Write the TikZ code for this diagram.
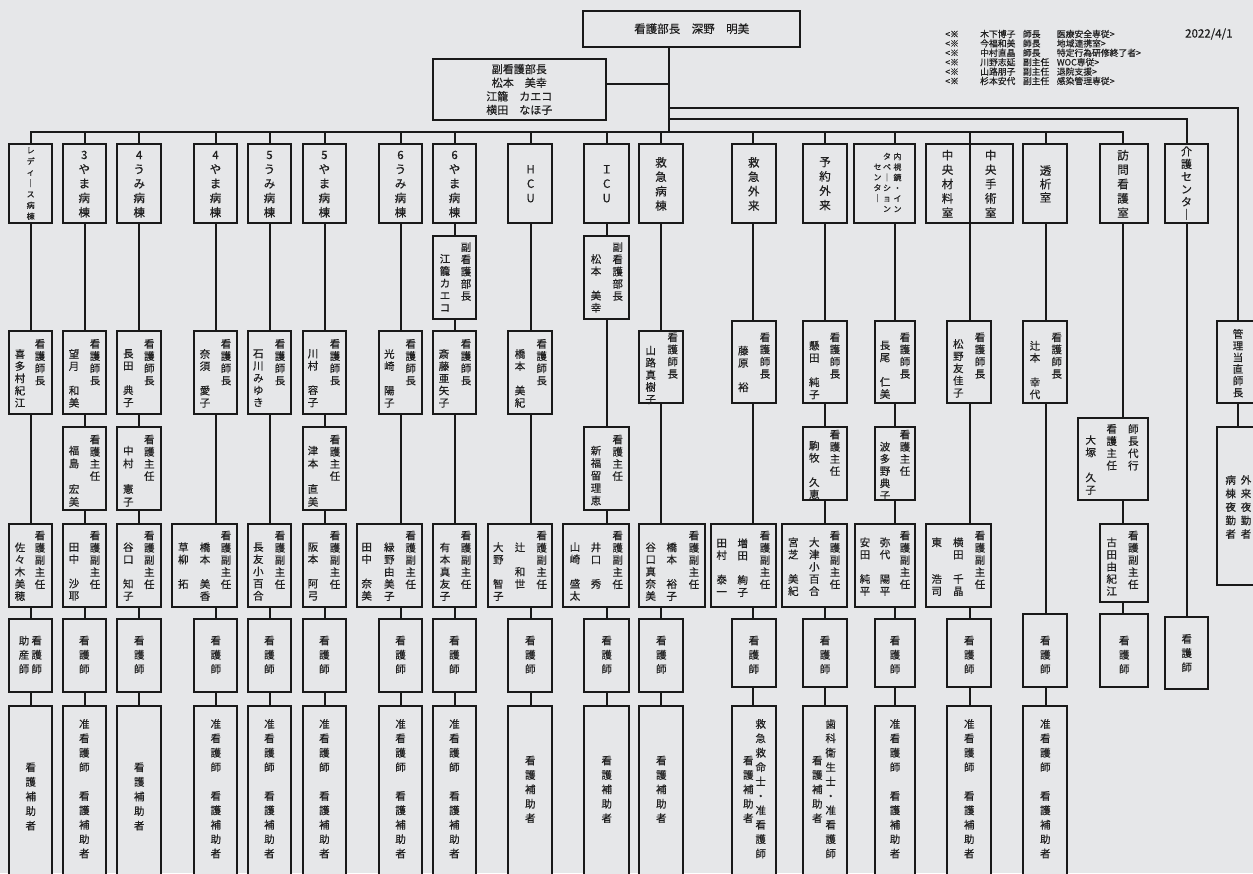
\documentclass[tikz,border=0pt]{standalone}
\usepackage{fontspec}
\setmainfont{Noto Sans CJK JP}[FakeBold=0.4]
\definecolor{bgc}{RGB}{230,231,233}
\definecolor{ln}{RGB}{25,25,25}
\definecolor{txt}{RGB}{32,32,32}
\pgfdeclarelayer{back}
\pgfdeclarelayer{wires}
\pgfsetlayers{back,wires,main}
\newlength\vp
\newcounter{tn}
\def\vtend{VTEND}
\def\vtl#1{\ifx#1\vtend\else\hbox to 1.2em{\hss\vrule height .8em depth .2em width 0pt\relax#1\hss}\expandafter\vtl\fi}
\newcommand\vt[1]{\vtop{\baselineskip=\vp\lineskiplimit=-\maxdimen\lineskip=0pt\relax\vtl#1\vtend}}
\def\SP{\phantom{国}}
\tikzset{
  bx/.style={draw=ln,line width=2pt,fill=bgc,inner sep=0pt,outer sep=0pt},
  tc/.style={inner sep=0pt,anchor=north,text=txt},
  wire/.style={draw=ln,line width=2pt,line cap=rect,line join=miter},
}
\newcommand\B[5]{\node[bx,minimum width={(#4)-(#2)},minimum height={(#5)-(#3)}] (#1) at ({((#2)+(#4))/2},{((#3)+(#5))/2}) {};}
\newcommand\Cg[5]{\stepcounter{tn}\node[tc,font=\fontsize{#1}{#1}\selectfont,yshift={0.42*#1}] (tx\arabic{tn}) at (#3,#4) {\vp=#2pt\relax\vt{#5}};}
\newcommand\TC{\Cg{10.5}{12.2}}
\newcommand\HDR{\Cg{11.5}{14.4}}
\newcommand\NSS{\Cg{10.5}{14.2}}
\newcommand\NBB{\Cg{10.5}{14.4}}
\newcommand\NT[5]{\node[anchor=west,inner sep=0pt,text=txt,font=\fontsize{8.8}{8.8}\selectfont] (nt#1) at (945,#2) {\makebox[35pt][l]{<※}\makebox[42.7pt][l]{#3}\makebox[34pt][l]{#4}#5>};}
\begin{document}
\begin{tikzpicture}[x=1pt,y=-1pt]
\begin{pgfonlayer}{back}
\fill[bgc] (0,0) rectangle (1253,873);
\end{pgfonlayer}
\useasboundingbox (0,0) rectangle (1253,873);

% top
\node[bx,minimum width=216.7,minimum height=36,font=\fontsize{11.5}{11.5}\selectfont,text=txt] (top) at (691.7,28.7) {看護部長　深野　明美};
\node[bx,minimum width=173.3,minimum height=61,align=center,font=\fontsize{11}{13.6}\selectfont,text=txt] (fuku) at (519.3,89.5) {副看護部長\\松本　美幸\\江籠　カエコ\\横田　なほ子};
\NT{1}{34}{木下博子}{師長}{医療安全専従}
\NT{2}{43.4}{今福和美}{師長}{地域連携室}
\NT{3}{52.8}{中村直晶}{師長}{特定行為研修終了者}
\NT{4}{62.2}{川野志延}{副主任}{WOC専従}
\NT{5}{71.6}{山路朋子}{副主任}{退院支援}
\NT{6}{81}{杉本安代}{副主任}{感染管理専従}
\node[anchor=west,inner sep=0pt,text=txt,font=\fontsize{11.5}{11.5}\selectfont] (date) at (1185,34) {2022/4/1};

% headers
\B{h1}{9}{144}{52.3}{222.7}
\B{h2}{62.7}{144}{106}{222.7}
\B{h3}{117.3}{144}{161}{222.7}
\B{h4}{194.3}{144}{237.3}{222.7}
\B{h5}{247.7}{144}{291}{222.7}
\B{h6}{302.7}{144}{346}{222.7}
\B{h7}{379}{144}{422.3}{222.7}
\B{h8}{432.7}{144}{476}{222.7}
\B{h9}{508.3}{144}{552.3}{222.7}
\B{h10}{584.3}{144}{629}{222.7}
\B{h11}{639.3}{144}{683.3}{222.7}
\B{h12}{731.7}{144}{776}{222.7}
\B{h13}{802.7}{144}{847.3}{222.7}
\B{h14}{854.3}{144}{915}{222.7}
\B{h15a}{926}{144}{970}{222.7}
\B{h15b}{970}{144}{1013.3}{222.7}
\B{h16}{1023.3}{144}{1067.3}{222.7}
\B{h17}{1100}{144}{1148}{222.7}
\B{h18}{1165}{144}{1208.3}{222.7}
\Cg{8}{11}{30.7}{150}{レディ｜ス病棟}
\HDR{84.3}{154.5}{3やま病棟}
\HDR{139.2}{154.5}{4うみ病棟}
\HDR{215.5}{154.5}{4やま病棟}
\HDR{269.5}{154.5}{5うみ病棟}
\HDR{324.4}{154.5}{5やま病棟}
\HDR{400.5}{154.5}{6うみ病棟}
\HDR{454.6}{154.5}{6やま病棟}
\HDR{530.6}{168.9}{HCU}
\HDR{606.7}{168.9}{ＩCU}
\HDR{661}{161.7}{救急病棟}
\HDR{753.7}{161.7}{救急外来}
\HDR{825}{161.7}{予約外来}
\Cg{8}{10.5}{897.5}{156}{内視鏡・イン}
\Cg{8}{10.5}{887}{156}{タベ｜ション}
\Cg{8}{10.5}{877.5}{166.5}{センタ｜}
\HDR{947.5}{154.5}{中央材料室}
\HDR{990.7}{154.5}{中央手術室}
\Cg{11.5}{13.5}{1045.5}{170}{透析室}
\HDR{1123}{154.5}{訪問看護室}
\Cg{11}{12.6}{1186.5}{150.7}{介護センタ｜}

% row A
\B{a8}{432.7}{236}{476}{319.3}
\B{a10}{584.3}{236}{629}{319.3}
\TC{466}{246.7}{副看護部長}\TC{445}{258.3}{江籠カエコ}
\TC{617.7}{246.7}{副看護部長}\TC{596}{258.3}{松本\SP 美幸}

% row 1
\B{r1c1}{9}{330.7}{52.3}{414.3}
\B{r1c2}{62.7}{330.7}{106}{414.3}
\B{r1c3}{117.3}{330.7}{161}{414.3}
\B{r1c4}{194.3}{330.7}{237.3}{414.3}
\B{r1c5}{247.7}{330.7}{291}{414.3}
\B{r1c6}{302.7}{330.7}{346}{414.3}
\B{r1c7}{379}{330.7}{422.3}{414.3}
\B{r1c8}{432.7}{330.7}{476}{414.3}
\B{r1c9}{508.3}{330.7}{552.3}{414.3}
\B{r1c11}{639.3}{330.7}{683.3}{403.3}
\B{r1c12}{731.7}{321}{776}{403.3}
\B{r1c13}{802.7}{321}{847.3}{403.3}
\B{r1c14}{875}{321}{915}{403.3}
\B{r1c15}{947.3}{321}{991}{403.3}
\B{r1c16}{1023.3}{321}{1067.3}{403.3}
\B{r1c19}{1216.7}{321}{1259}{403.3}
\TC{40}{343.3}{看護師長}\TC{20}{353.3}{喜多村紀江}
\TC{95}{343.3}{看護師長}\TC{74}{353.3}{望月\SP 和美}
\TC{149.3}{343.3}{看護師長}\TC{128.3}{353.3}{長田\SP 典子}
\TC{226}{343.3}{看護師長}\TC{205}{353.3}{奈須\SP 愛子}
\TC{280}{343.3}{看護師長}\TC{258.3}{353.3}{石川みゆき}
\TC{335}{343.3}{看護師長}\TC{313}{353.3}{川村\SP 容子}
\TC{410.7}{343.3}{看護師長}\TC{389.3}{353.3}{光崎\SP 陽子}
\TC{466}{343.3}{看護師長}\TC{444}{353.3}{斎藤亜矢子}
\TC{541.7}{343.3}{看護師長}\TC{520}{353.3}{橋本\SP 美紀}
\TC{672.7}{336.7}{看護師長}\TC{650.7}{350}{山路真樹子}
\TC{765}{336.7}{看護師長}\TC{743.3}{350}{藤原\SP 裕}
\TC{835}{336.7}{看護師長}\TC{814.3}{345}{懸田\SP 純子}
\TC{905}{336.7}{看護師長}\TC{885}{345}{長尾\SP 仁美}
\TC{980}{336.7}{看護師長}\TC{958.3}{343.3}{松野友佳子}
\TC{1056.7}{336.7}{看護師長}\TC{1035}{345}{辻本\SP 幸代}
\Cg{10.5}{11.7}{1238}{333.3}{管理当直師長}

% row 2
\B{r2c2}{62.7}{427.3}{106}{510}
\B{r2c3}{117.3}{427.3}{161}{510}
\B{r2c6}{302.7}{427.3}{346}{510}
\B{r2c10}{584.3}{427.3}{629}{510}
\B{r2c13}{802.7}{427.3}{847.3}{500}
\B{r2c14}{875}{427.3}{915}{500}
\B{r2c17}{1078.3}{417.7}{1148.3}{500}
\B{r2c19}{1216.7}{427.3}{1259}{585}
\TC{95}{439}{看護主任}\Cg{10.5}{12.8}{74}{450}{福島\SP 宏美}
\TC{149.3}{439}{看護主任}\Cg{10.5}{12.8}{128.3}{450}{中村\SP 憲子}
\TC{335}{439}{看護主任}\Cg{10.5}{12.8}{313}{450}{津本\SP 直美}
\TC{617.7}{439}{看護主任}\Cg{10.5}{12.5}{596}{450}{新福留理恵}
\TC{835}{434}{看護主任}\TC{814.3}{445}{駒牧\SP 久恵}
\TC{905}{434}{看護主任}\TC{885}{446}{波多野典子}
\TC{1133.3}{428.3}{師長代行}\TC{1111.7}{428.3}{看護主任}\Cg{10.5}{12.5}{1090.7}{439.3}{大塚\SP 久子}
\Cg{10.5}{13.5}{1246}{479.3}{外来夜勤者}\Cg{10.5}{13.5}{1230.7}{479.3}{病棟夜勤者}

% row 3
\B{r3c1}{9}{524}{52.3}{606.7}
\B{r3c2}{62.7}{524}{106}{606.7}
\B{r3c3}{117.3}{524}{161}{606.7}
\B{r3c4}{171.7}{524}{237.3}{606.7}
\B{r3c5}{247.7}{524}{291}{606.7}
\B{r3c6}{302.7}{524}{346}{606.7}
\B{r3c7}{356.7}{524}{422.3}{606.7}
\B{r3c8}{432.7}{524}{476}{606.7}
\B{r3c9}{487.7}{524}{552.3}{606.7}
\B{r3c10}{563.3}{524}{629}{606.7}
\B{r3c11}{639.3}{524}{705}{606.7}
\B{r3c12}{710.7}{524}{776}{606.7}
\B{r3c13}{781.7}{524}{847.3}{606.7}
\B{r3c14}{855}{524}{915}{606.7}
\B{r3c15}{926}{524}{991}{606.7}
\B{r3c17}{1100}{524}{1148.3}{601.7}
\TC{40}{535}{看護副主任}\TC{20}{546.7}{佐々木美穂}
\TC{95}{535}{看護副主任}\TC{74}{546.7}{田中\SP 沙耶}
\TC{149.3}{535}{看護副主任}\TC{128.3}{546.7}{谷口\SP 知子}
\TC{226}{535}{看護副主任}\TC{205}{546.7}{橋本\SP 美香}\TC{183.3}{546.7}{草柳\SP 拓}
\TC{280}{535}{看護副主任}\TC{258.3}{546.7}{長友小百合}
\TC{335}{535}{看護副主任}\TC{313}{546.7}{阪本\SP 阿弓}
\TC{410.7}{535}{看護副主任}\TC{389.3}{546.7}{緑野由美子}\TC{366.7}{546.7}{田中\SP 奈美}
\TC{466}{535}{看護副主任}\TC{445}{546.7}{有本真友子}
\TC{541.7}{535}{看護副主任}\TC{520}{546.7}{辻\SP 和世}\TC{498.3}{546.7}{大野\SP 智子}
\TC{617.7}{535}{看護副主任}\TC{596}{546.7}{井口\SP 秀}\TC{575}{546.7}{山崎\SP 盛太}
\TC{694}{535}{看護副主任}\TC{671.7}{546.7}{橋本\SP 裕子}\TC{650.7}{546.7}{谷口真奈美}
\TC{765}{535}{看護副主任}\TC{742.7}{542.7}{増田\SP 絢子}\TC{721.7}{542.7}{田村\SP 泰一}
\TC{835}{535}{看護副主任}\TC{814.3}{541.7}{大津小百合}\TC{793.3}{541.7}{宮芝\SP 美紀}
\TC{905}{535}{看護副主任}\TC{885}{541.7}{弥代\SP 陽平}\TC{865}{541.7}{安田\SP 純平}
\TC{980}{535}{看護副主任}\TC{958.3}{541.7}{横田\SP 千晶}\TC{936.7}{541.7}{東\SP\SP 浩司}
\TC{1133.3}{535}{看護副主任}\TC{1111.7}{541.7}{古田由紀江}

% row 4
\B{r4c1}{9}{619}{52.3}{691.7}
\B{r4c2}{62.7}{619}{106}{691.7}
\B{r4c3}{117.3}{619}{161}{691.7}
\B{r4c4}{194.3}{619}{237.3}{691.7}
\B{r4c5}{247.7}{619}{291}{691.7}
\B{r4c6}{302.7}{619}{346}{691.7}
\B{r4c7}{379}{619}{422.3}{691.7}
\B{r4c8}{432.7}{619}{476}{691.7}
\B{r4c9}{508.3}{619}{552.3}{691.7}
\B{r4c10}{584.3}{619}{629}{691.7}
\B{r4c11}{639.3}{619}{683.3}{691.7}
\B{r4c12}{731.7}{619}{776}{686.7}
\B{r4c13}{802.7}{619}{847.3}{686.7}
\B{r4c14}{875}{619}{915}{686.7}
\B{r4c15}{947.3}{619}{991}{686.7}
\B{r4c16}{1023.3}{614}{1067.3}{686.7}
\B{r4c17}{1100}{614}{1148.3}{686.7}
\B{r4c18}{1165}{616.7}{1208.3}{689}
\NSS{36.7}{640}{看護師}\NSS{24}{640}{助産師}
\NSS{84.3}{640}{看護師}
\NSS{139.2}{640}{看護師}
\NSS{215.8}{640}{看護師}
\NSS{269.4}{640}{看護師}
\NSS{324.4}{640}{看護師}
\NSS{400.6}{640}{看護師}
\NSS{454.4}{640}{看護師}
\NSS{530.3}{640}{看護師}
\NSS{606.7}{640}{看護師}
\NSS{661.3}{640}{看護師}
\NSS{753.9}{640}{看護師}
\NSS{825}{640}{看護師}
\NSS{895}{640}{看護師}
\NSS{969.2}{640}{看護師}
\NSS{1045.3}{640}{看護師}
\NSS{1124.2}{640}{看護師}
\NSS{1186.7}{638.3}{看護師}

% row 5
\B{r5c1}{9}{706}{52.3}{900}
\B{r5c2}{62.7}{706}{106}{900}
\B{r5c3}{117.3}{706}{161}{900}
\B{r5c4}{194.3}{706}{237.3}{900}
\B{r5c5}{247.7}{706}{291}{900}
\B{r5c6}{302.7}{706}{346}{900}
\B{r5c7}{379}{706}{422.3}{900}
\B{r5c8}{432.7}{706}{476}{900}
\B{r5c9}{508.3}{706}{552.3}{900}
\B{r5c10}{584.3}{706}{629}{900}
\B{r5c11}{639.3}{706}{683.3}{900}
\B{r5c12}{731.7}{706}{776}{900}
\B{r5c13}{802.7}{706}{847.3}{900}
\B{r5c14}{875}{706}{915}{900}
\B{r5c15}{947.3}{706}{991}{900}
\B{r5c16}{1023.3}{706}{1067.3}{900}
\Cg{10.5}{14.6}{30.7}{766.7}{看護補助者}
\NBB{84.3}{723.3}{准看護師\SP 看護補助者}
\Cg{10.5}{14.6}{139.2}{766.7}{看護補助者}
\NBB{215.8}{723.3}{准看護師\SP 看護補助者}
\NBB{269.4}{723.3}{准看護師\SP 看護補助者}
\NBB{324.4}{723.3}{准看護師\SP 看護補助者}
\NBB{400.6}{723.3}{准看護師\SP 看護補助者}
\NBB{454.4}{723.3}{准看護師\SP 看護補助者}
\NBB{530.3}{760}{看護補助者}
\NBB{606.7}{760}{看護補助者}
\NBB{661.3}{760}{看護補助者}
\NBB{760.7}{723.3}{救急救命士・准看護師}\NBB{748.3}{760}{看護補助者}
\NBB{830.7}{723.3}{歯科衛生士・准看護師}\NBB{817.3}{760}{看護補助者}
\NBB{895}{723.3}{准看護師\SP 看護補助者}
\NBB{969.2}{723.3}{准看護師\SP 看護補助者}
\NBB{1045.3}{723.3}{准看護師\SP 看護補助者}

% connectors
\coordinate (t1) at (30.5,131.7);
\coordinate (t2) at (84.5,131.7);
\coordinate (t3) at (139,131.7);
\coordinate (t4) at (215.5,131.7);
\coordinate (t5) at (269.5,131.7);
\coordinate (t6) at (324.5,131.7);
\coordinate (t7) at (400.5,131.7);
\coordinate (t8) at (455,131.7);
\coordinate (t9) at (531,131.7);
\coordinate (t10) at (606.7,131.7);
\coordinate (t11) at (660.7,131.7);
\coordinate (t12) at (753.3,131.7);
\coordinate (t13) at (825,131.7);
\coordinate (t14) at (895,131.7);
\coordinate (t15) at (970,131.7);
\coordinate (t16) at (1046,131.7);
\coordinate (t17) at (1122.7,131.7);
\coordinate (tk) at (669.3,131.7);
\coordinate (u18) at (669.3,119.3);
\coordinate (u19) at (669.3,107.7);
\begin{pgfonlayer}{wires}
\draw[wire] (t1) -- (t17);
\foreach \i in {1,...,16}{\draw[wire] (t\i) -- (t\i |- r5c\i.north);}
\draw[wire] (t17) -- (t17 |- r4c17.north);
\draw[wire] (top.south -| tk) -- (tk);
\draw[wire] ([yshift=5.5pt]fuku.east) -- ([yshift=5.5pt]fuku.east -| tk);
\draw[wire] (u18) -| (r4c18.north);
\draw[wire] (u19) -| (r2c19.north);
\end{pgfonlayer}
\end{tikzpicture}
\end{document}
